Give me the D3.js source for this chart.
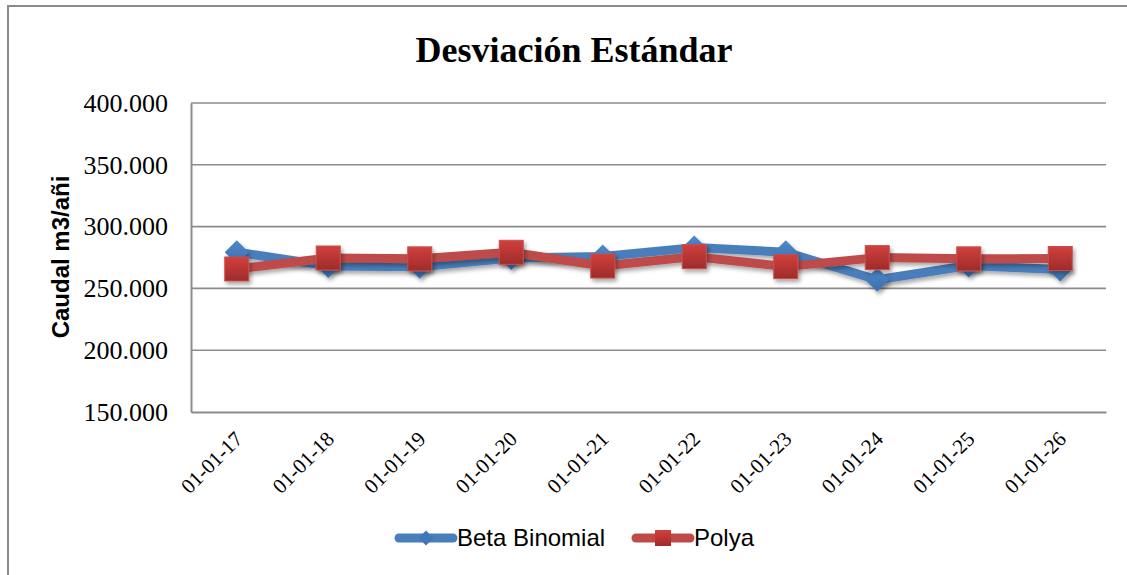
<!DOCTYPE html>
<html>
  <head>
    <meta charset="utf-8">
    <title></title>
    <style>
      body, html{
        margin: 0;
        width: 100%;
        height: 100%;
        background: #fff;
      }
      svg{
        display: block;
      }
    </style>
  </head>
  <body>
    <div id="chart"></div>
    <script src="https://cdn.jsdelivr.net/npm/d3@7"></script>
    <script>

var categories = ['01-01-17', '01-01-18', '01-01-19', '01-01-20', '01-01-21',
  '01-01-22', '01-01-23', '01-01-24', '01-01-25', '01-01-26']
var betaBinomial = [279300, 268200, 267600, 274500, 275800, 283000, 279300, 257000, 268500, 265300]
var polya = [265700, 274600, 273900, 279200, 268100, 275700, 267600, 274900, 273900, 274200]
var yTicks = [150000, 200000, 250000, 300000, 350000, 400000]
var seriesNames = ['Beta Binomial', 'Polya']

var width = 1127, height = 575
var plotL = 191, plotR = 1106, plotT = 103, plotB = 412

var svg = d3.select('#chart').append('svg')
  .attr('width', width).attr('height', height)

var defs = svg.append('defs')
var sh = defs.append('filter').attr('id', 'shadow')
  .attr('x', '-50%').attr('y', '-50%').attr('width', '200%').attr('height', '200%')
sh.append('feDropShadow').attr('dx', 2).attr('dy', 3).attr('stdDeviation', 2)
  .attr('flood-color', '#000').attr('flood-opacity', 0.35)
var gr = defs.append('linearGradient').attr('id', 'redGrad')
  .attr('x1', 0).attr('y1', 0).attr('x2', 0).attr('y2', 1)
gr.append('stop').attr('offset', '0%').attr('stop-color', '#d1403d')
gr.append('stop').attr('offset', '100%').attr('stop-color', '#9e2b2a')
var gb = defs.append('linearGradient').attr('id', 'blueGrad')
  .attr('x1', 0).attr('y1', 0).attr('x2', 0).attr('y2', 1)
gb.append('stop').attr('offset', '0%').attr('stop-color', '#4f88cc')
gb.append('stop').attr('offset', '100%').attr('stop-color', '#3a6fae')

// outer frame (right/bottom edges fall outside the picture)
svg.append('rect')
  .attr('x', 8).attr('y', 6).attr('width', 1140).attr('height', 600)
  .attr('fill', 'none').attr('stroke', '#8a8a8a').attr('stroke-width', 2)

var x = d3.scaleBand().domain(categories).range([plotL, plotR])
var y = d3.scaleLinear().domain([150000, 400000]).range([plotB, plotT])
var loc = d3.formatLocale({decimal: ',', thousands: '.', grouping: [3], currency: ['', '']})
var fmt = loc.format(',')

// gridlines
svg.append('g').selectAll('line').data(yTicks.slice(1)).enter().append('line')
  .attr('x1', plotL).attr('x2', plotR)
  .attr('y1', function(d){ return y(d) }).attr('y2', function(d){ return y(d) })
  .attr('stroke', '#8c8c8c').attr('stroke-width', 1.6)

var yAxis = svg.append('g').attr('transform', 'translate(' + plotL + ',0)')
  .call(d3.axisLeft(y).tickValues(yTicks).tickFormat(fmt).tickSize(0).tickPadding(23))
yAxis.select('.domain').attr('stroke', '#8c8c8c').attr('stroke-width', 2)
yAxis.selectAll('text')
  .attr('font-family', '"Liberation Serif", "Times New Roman", serif')
  .attr('font-size', 26).attr('fill', '#000')

var xAxis = svg.append('g').attr('transform', 'translate(0,' + plotB + ')')
  .call(d3.axisBottom(x).tickSize(0).tickFormat(''))
xAxis.select('.domain').attr('stroke', '#8c8c8c').attr('stroke-width', 2)

svg.append('g').selectAll('text').data(categories).enter().append('text')
  .attr('transform', function(d){
    return 'translate(' + (x(d) + x.bandwidth() / 2 + 2) + ',435) rotate(-45)'
  })
  .attr('text-anchor', 'end').attr('dy', '0.35em')
  .attr('font-family', '"Liberation Serif", "Times New Roman", serif')
  .attr('font-size', 21).attr('fill', '#000')
  .text(function(d){ return d })

// title
svg.append('text')
  .attr('x', 574).attr('y', 62).attr('text-anchor', 'middle')
  .attr('font-family', '"Liberation Serif", "Times New Roman", serif')
  .attr('font-weight', 'bold').attr('font-size', 36)
  .text('Desviación Estándar')

// y axis title
svg.append('text')
  .attr('transform', 'translate(69,257) rotate(-90)')
  .attr('text-anchor', 'middle')
  .attr('font-family', '"Liberation Sans", Arial, sans-serif')
  .attr('font-weight', 'bold').attr('font-size', 24)
  .text('Caudal m3/añi')

var cx = function(d, i){ return x(categories[i]) + x.bandwidth() / 2 }
var line = d3.line().x(function(d, i){ return cx(d, i) }).y(function(d){ return y(d) })

function diamond(s){
  return 'M0,' + (-s) + 'L' + s + ',0L0,' + s + 'L' + (-s) + ',0Z'
}

// Beta Binomial
svg.append('path').datum(betaBinomial).attr('d', line)
  .attr('fill', 'none').attr('stroke', '#4a7ebb').attr('stroke-width', 9)
  .attr('stroke-linejoin', 'round').attr('filter', 'url(#shadow)')
svg.append('g').selectAll('path').data(betaBinomial).enter().append('path')
  .attr('transform', function(d, i){ return 'translate(' + cx(d, i) + ',' + y(d) + ')' })
  .attr('d', diamond(12))
  .attr('fill', 'url(#blueGrad)').attr('filter', 'url(#shadow)')

// Polya
svg.append('path').datum(polya).attr('d', line)
  .attr('fill', 'none').attr('stroke', '#be4b48').attr('stroke-width', 9)
  .attr('stroke-linejoin', 'round').attr('filter', 'url(#shadow)')
svg.append('g').selectAll('rect').data(polya).enter().append('rect')
  .attr('x', function(d, i){ return cx(d, i) - 12 })
  .attr('y', function(d){ return y(d) - 12 })
  .attr('width', 24).attr('height', 24)
  .attr('fill', 'url(#redGrad)').attr('stroke', '#c9504d').attr('stroke-width', 1)
  .attr('filter', 'url(#shadow)')

// legend
var legend = svg.append('g')
var lg1 = legend.append('g')
lg1.append('line').attr('x1', 399).attr('x2', 453).attr('y1', 538).attr('y2', 538)
  .attr('stroke', '#4a7ebb').attr('stroke-width', 9).attr('stroke-linecap', 'round')
lg1.append('path').attr('transform', 'translate(426,538)').attr('d', diamond(7.5))
  .attr('fill', '#3f77b9')
lg1.append('text').attr('x', 457).attr('y', 546)
  .attr('font-family', '"Liberation Sans", Arial, sans-serif').attr('font-size', 24)
  .text(seriesNames[0])

var lg2 = legend.append('g')
lg2.append('line').attr('x1', 636).attr('x2', 690).attr('y1', 538).attr('y2', 538)
  .attr('stroke', '#be4b48').attr('stroke-width', 9).attr('stroke-linecap', 'round')
lg2.append('rect').attr('x', 655).attr('y', 530).attr('width', 16).attr('height', 16)
  .attr('fill', 'url(#redGrad)')
lg2.append('text').attr('x', 694).attr('y', 546)
  .attr('font-family', '"Liberation Sans", Arial, sans-serif').attr('font-size', 24)
  .text(seriesNames[1])
    </script>
  </body>
</html>
